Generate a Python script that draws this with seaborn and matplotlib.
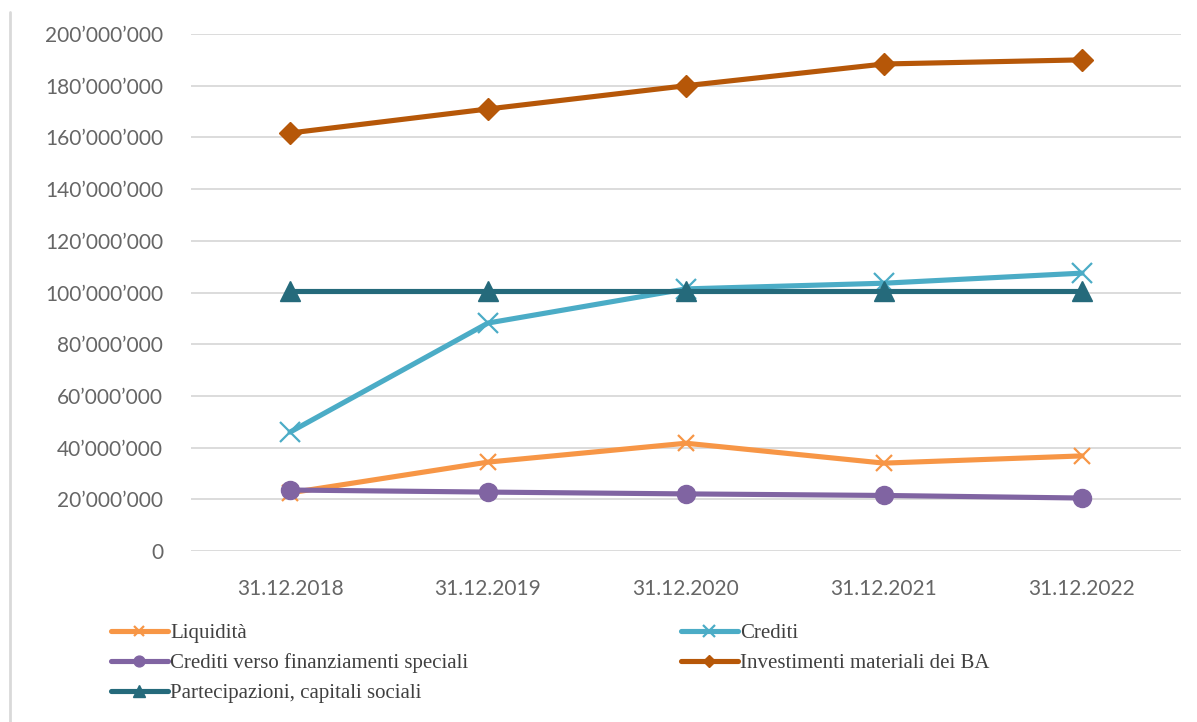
import matplotlib.pyplot as plt
import matplotlib as mpl
import numpy as np
import pandas as pd
import seaborn as sns
from matplotlib.ticker import FuncFormatter

sns.set_style("white")
mpl.rcParams["font.family"] = ["Lato", "DejaVu Sans"]

# dati
anni = ["31.12.2018", "31.12.2019", "31.12.2020", "31.12.2021", "31.12.2022"]
liquidita = [22.5e6, 34.4e6, 41.7e6, 34.0e6, 36.8e6]
crediti = [46.0e6, 88.2e6, 101.4e6, 103.6e6, 107.5e6]
crediti_speciali = [23.6e6, 22.8e6, 22.1e6, 21.5e6, 20.5e6]
investimenti = [161.7e6, 171.0e6, 180.0e6, 188.4e6, 190.0e6]
partecipazioni = [100.7e6, 100.7e6, 100.7e6, 100.7e6, 100.7e6]

serie = [
    ("Liquidità", liquidita, "#F79646", "x", 11, 1.6),
    ("Crediti", crediti, "#4BACC6", "x", 15, 1.6),
    ("Crediti verso finanziamenti speciali", crediti_speciali, "#8064A2", "o", 13, 1),
    ("Investimenti materiali dei BA", investimenti, "#B65708", "D", 11, 1),
    ("Partecipazioni, capitali sociali", partecipazioni, "#256A7B", "^", 15, 1),
]

fig = plt.figure(figsize=(11.97, 7.22), dpi=100)
ax = fig.add_axes([0.1596, 0.2368, 0.8270, 0.7161])

x = np.arange(len(anni))
for nome, valori, colore, marker, ms, mew in serie:
    sns.lineplot(x=x, y=valori, ax=ax, color=colore, marker=marker,
                 markersize=ms, markeredgewidth=mew, markeredgecolor=colore,
                 linewidth=3.7, label=nome)

ax.set_xlim(-0.5, len(anni) - 0.5)
ax.set_ylim(0, 200e6)
ax.set_yticks(np.arange(0, 200e6 + 1, 20e6))
ax.yaxis.set_major_formatter(FuncFormatter(lambda v, p: f"{v:,.0f}".replace(",", "’")))
ax.set_xticks(x)
ax.set_xticklabels(anni)
ax.tick_params(axis="y", length=0, pad=20, labelsize=15, labelcolor="#666666")
ax.tick_params(axis="x", length=0, pad=20, labelsize=15, labelcolor="#666666")

ax.grid(axis="y", color="#D9D9D9", linewidth=1.3)
ax.set_axisbelow(True)
for s in ax.spines.values():
    s.set_visible(False)

# legenda in basso su due colonne
h, l = ax.get_legend_handles_labels()
ordine = [0, 2, 4, 1, 3]
leg = ax.legend([h[i] for i in ordine], [l[i] for i in ordine],
                loc="upper left", bbox_to_anchor=(-0.10, -0.104), ncol=2,
                frameon=False, handlelength=2.75, handletextpad=0.1,
                columnspacing=10.2, labelspacing=0.49, markerscale=0.6,
                prop={"family": "Liberation Serif", "size": 15})
for t in leg.get_texts():
    t.set_color("#404040")

# bordo sinistro
fig.add_artist(plt.Line2D([10 / 1197, 10 / 1197], [0, 1 - 12 / 722],
                          transform=fig.transFigure, color="#D9D9D9", linewidth=2))

plt.savefig("out.png", dpi=100)
plt.close()
